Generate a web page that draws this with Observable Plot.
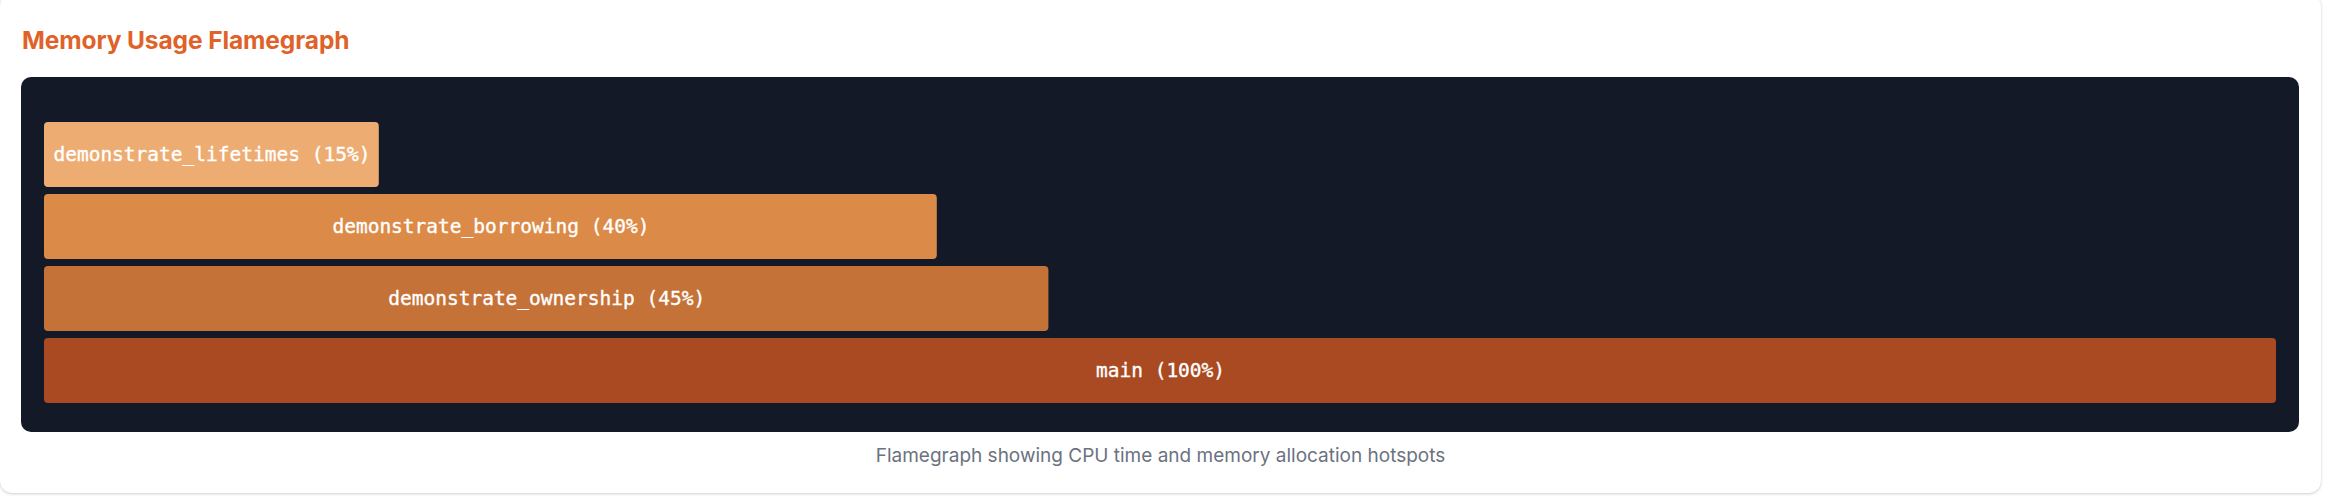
<!DOCTYPE html>
<html>
<head>
<meta charset="utf-8">
<script src="https://cdn.jsdelivr.net/npm/d3@7"></script>
<script src="https://cdn.jsdelivr.net/npm/@observablehq/plot@0.6"></script>
<style>
  html, body { margin: 0; padding: 0; background: #ffffff; }
  body { width: 2330px; height: 498px; position: relative; overflow: hidden; font-family: Inter, "Noto Sans", sans-serif; }
  .card { position: absolute; left: 0; top: -6px; width: 2321px; height: 499px; background: #fff; border-radius: 12px; box-shadow: 0 1px 3px rgba(0,0,0,0.18), 0 0 1px rgba(0,0,0,0.12); }
  .title { position: absolute; left: 22px; top: 25px; margin: 0; font-size: 24.5px; font-weight: 700; color: #df6229; line-height: 30px; letter-spacing: -0.1px; }
  #chart { position: absolute; left: 21px; top: 77px; }
  #chart svg { display: block; border-radius: 10px; }
  .caption { position: absolute; left: 0; width: 2321px; top: 444px; text-align: center; font-size: 19px; color: #6b7280; line-height: 24px; }
</style>
</head>
<body>
<div class="card"></div>
<h2 class="title">Memory Usage Flamegraph</h2>
<div id="chart"></div>
<div class="caption">Flamegraph showing CPU time and memory allocation hotspots</div>
<script>
// Flamegraph frames, top of stack first
const frames = ["demonstrate_lifetimes", "demonstrate_borrowing", "demonstrate_ownership", "main"];
const starts = [0, 0, 0, 0];
const percents = [15, 40, 45, 100];
const palette = ["#edac72", "#db8b47", "#c57239", "#a94a22"];

const data = frames.map((name, i) => ({
  name,
  start: starts[i],
  end: starts[i] + percents[i],
  label: `${name} (${percents[i]}%)`
}));

const chart = Plot.plot({
  width: 2278,
  height: 355,
  marginLeft: 23,
  marginRight: 23,
  marginTop: 44,
  marginBottom: 28,
  style: { background: "#131926", overflow: "visible" },
  x: { domain: [0, 100], axis: null },
  y: { domain: frames, axis: null, paddingInner: 0.1, paddingOuter: 0 },
  color: { domain: frames, range: palette },
  marks: [
    Plot.barX(data, { x1: "start", x2: "end", y: "name", fill: "name", rx: 4 }),
    Plot.text(data, {
      x: d => (d.start + d.end) / 2,
      y: "name",
      text: "label",
      fill: "#ffffff",
      stroke: "#ffffff",
      strokeWidth: 0.35,
      fontFamily: "DejaVu Sans Mono",
      fontSize: 19.5,
      textAnchor: "middle"
    })
  ]
});
document.getElementById("chart").appendChild(chart);
</script>
</body>
</html>
